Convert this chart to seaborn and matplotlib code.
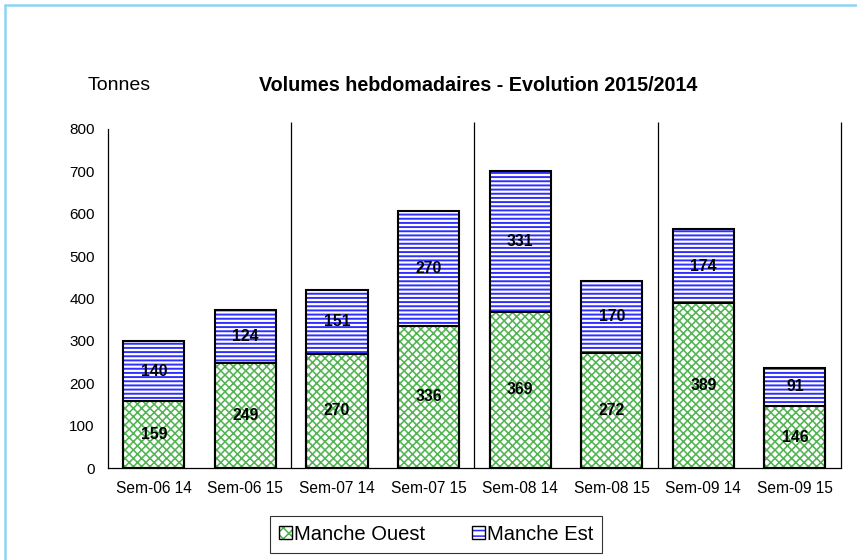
#!/usr/bin/env python3

# ===================== LIBRERÍAS =====================

import matplotlib.pyplot as plt
from matplotlib.patches import Patch
from matplotlib.lines import Line2D
import seaborn as sns
import pandas as pd
import numpy as np

# ===================== DATOS =====================

semaines = ["Sem-06 14", "Sem-06 15", "Sem-07 14", "Sem-07 15",
            "Sem-08 14", "Sem-08 15", "Sem-09 14", "Sem-09 15"]
manche_ouest = [159, 249, 270, 336, 369, 272, 389, 146]
manche_est = [140, 124, 151, 270, 331, 170, 174, 91]

vert = "#52b452"
bleu = "#2f2fff"
bordure = "#8fd3f5"

# ===================== MAIN =====================

def main() -> None:

    sns.set_style("white", {
        "text.color": "black",
        "axes.labelcolor": "black",
        "xtick.color": "black",
        "ytick.color": "black",
    })
    plt.rcParams["font.family"] = ["Liberation Sans", "DejaVu Sans"]

    df = pd.DataFrame({
        "semaine": semaines,
        "ouest": manche_ouest,
        "est": manche_est,
    })
    df["total"] = df["ouest"] + df["est"]

    fig = plt.figure(figsize=(8.57, 5.6), dpi=100)
    ax = fig.add_axes([0.126, 0.164, 0.855, 0.606])

    # Barras apiladas: primero el total (Manche Est arriba), luego Manche Ouest
    capas = [("total", bleu, "----", 1.4), ("ouest", vert, "xxxx", 1.15)]
    for col, color, hatch, lw in capas:
        plt.rcParams["hatch.linewidth"] = lw
        sns.barplot(data=df, x="semaine", y=col, color="white",
                    width=0.667, errorbar=None, ax=ax)
        for bar in ax.containers[-1]:
            bar.set_facecolor("white")
            bar.set_edgecolor(color)
            bar.set_hatch(hatch)
            bar.set_linewidth(0)

    # Contornos negros
    for col in ["total", "ouest"]:
        sns.barplot(data=df, x="semaine", y=col, color="white",
                    width=0.667, errorbar=None, ax=ax)
        for bar in ax.containers[-1]:
            bar.set_facecolor("none")
            bar.set_edgecolor("black")
            bar.set_linewidth(1.5)

    # Etiquetas de valores
    for i, row in df.iterrows():
        ax.text(i, row["ouest"] / 2, str(row["ouest"]), ha="center",
                va="center", fontsize=11.3, fontweight="bold")
        ax.text(i, row["ouest"] + row["est"] / 2, str(row["est"]),
                ha="center", va="center", fontsize=11.3, fontweight="bold")

    # Separadores entre semanas
    ax.vlines([1.5, 3.5, 5.5, 7.5], 0, 815, color="black",
              linewidth=0.9, clip_on=False)

    # ===================== EJES =====================

    ax.set_xlim(-0.5, 7.5)
    ax.set_ylim(0, 800)
    ax.set_yticks(np.arange(0, 801, 100))
    ax.set_xticks(np.arange(-0.5, 8, 1))
    ax.set_xticklabels([])
    ax.set_xticks(range(len(semaines)), minor=True)
    ax.set_xticklabels(semaines, minor=True, fontsize=11.2)
    ax.tick_params(axis="x", which="major", direction="inout",
                   length=8, width=0.9, color="black")
    ax.tick_params(axis="x", which="minor", length=0, pad=9)
    ax.tick_params(axis="y", direction="inout", length=11, width=0.9,
                   color="black", labelsize=11, pad=4)
    ax.set_xlabel("")
    ax.set_ylabel("")

    sns.despine(ax=ax, top=True, right=True)
    for side in ["left", "bottom"]:
        ax.spines[side].set_color("black")
        ax.spines[side].set_linewidth(0.9)

    # ===================== TEXTOS =====================

    fig.text(0.139, 0.848, "Tonnes", ha="center", va="center", fontsize=14)
    fig.text(0.558, 0.848, "Volumes hebdomadaires - Evolution 2015/2014",
             ha="center", va="center", fontsize=14.2, fontweight="bold")

    # Leyenda
    handles = [
        (Patch(facecolor="white", edgecolor=vert, hatch="xxx", linewidth=0),
         Patch(facecolor="none", edgecolor="black", linewidth=1)),
        (Patch(facecolor="white", edgecolor=bleu, hatch="---", linewidth=0),
         Patch(facecolor="none", edgecolor="black", linewidth=1)),
    ]
    leg = fig.legend(handles, ["Manche Ouest", "Manche Est"],
                     loc="center", bbox_to_anchor=(0.509, 0.046), ncol=2,
                     fontsize=14.5, frameon=True, fancybox=False,
                     handlelength=0.65, handleheight=0.65, handletextpad=0.1,
                     columnspacing=2.3, borderpad=0.45, borderaxespad=0)
    leg.get_frame().set_edgecolor("black")
    leg.get_frame().set_linewidth(0.8)

    # Borde del gráfico
    fig.add_artist(Line2D([5 / 857, 5 / 857], [0, 1 - 5 / 560],
                          color=bordure, linewidth=1.8))
    fig.add_artist(Line2D([5 / 857, 1], [1 - 5 / 560, 1 - 5 / 560],
                          color=bordure, linewidth=1.8))

    plt.savefig("out.png", dpi=100)
    plt.close("all")

    return

if __name__ == "__main__":
    main()
